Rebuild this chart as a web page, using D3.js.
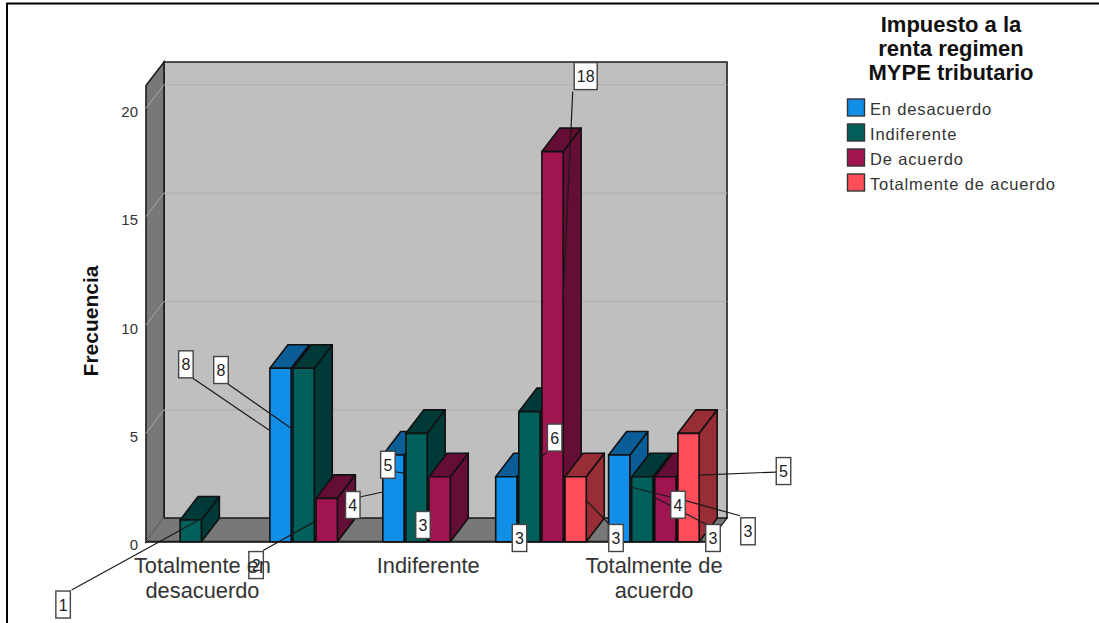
<!DOCTYPE html>
<html>
<head>
<meta charset="utf-8">
<script src="https://cdnjs.cloudflare.com/ajax/libs/d3/7.8.5/d3.min.js"></script>
<style>
  html, body { margin: 0; padding: 0; background: #fff; }
  svg { display: block; font-family: "Liberation Sans", Arial, sans-serif; }
</style>
</head>
<body>
<svg id="chart" width="1099" height="623"></svg>
<script>
// Grouped frequencies per answer to the horizontal-axis question
const categories = ["Totalmente en desacuerdo", "En desacuerdo", "Indiferente", "De acuerdo", "Totalmente de acuerdo"];
const seriesNames = ["En desacuerdo", "Indiferente", "De acuerdo", "Totalmente de acuerdo"];
const enDesacuerdo = [0, 8, 4, 3, 4];
const indiferente = [1, 8, 5, 6, 3];
const deAcuerdo = [0, 2, 3, 18, 3];
const totalmenteDeAcuerdo = [0, 0, 0, 3, 5];
const seriesValues = [enDesacuerdo, indiferente, deAcuerdo, totalmenteDeAcuerdo];
const yTicks = [0, 5, 10, 15, 20];
const legendTitle = ["Impuesto a la", "renta regimen", "MYPE tributario"];
const axisTitle = "Frecuencia";
const shownCategoryLabels = [["Totalmente en", "desacuerdo"], null, ["Indiferente"], null, ["Totalmente de", "acuerdo"]];

// Fill colours per series: front face and shaded side/top face
const frontColors = ["#118fe8", "#01605c", "#a0154f", "#ff4e5a"];
const sideColors = ["#0b5d97", "#003a38", "#640d35", "#982d35"];

// Callouts: series, category, box centre relative to the bar's top-left front corner,
// leader start relative to the box centre, leader end relative to the same corner
const callouts = [
  [1, 0, -117, 84.5, 8.5, -14.5, 17, 1],
  [0, 1, -84, -4, 7, 14, -0.5, 62],
  [1, 1, -72, 1.7, 7, 14, -0.5, 61],
  [2, 1, -60, 66.7, 7, -14.5, -1, 23],
  [0, 2, -30, 50, 7, -8, 0, 37],
  [1, 2, -18, 31.4, 7, 7, 0, 40],
  [2, 2, -6, 48.3, 7, 0, 0, 48],
  [0, 3, 23.8, 61.3, -7, 0, 20, 58],
  [1, 3, 35.9, 25.9, -7, 13.5, 22, 46.4],
  [2, 3, 43.8, -75.5, -13, 15.7, 21, 153],
  [3, 3, 51, 61.3, -7, -14, 21, 23.3],
  [0, 4, 69.4, 49.7, -7.3, -7.7, 20.7, 31.7],
  [1, 4, 81.3, 61.3, -7, -13.7, 21.6, 20],
  [2, 4, 93.2, 54.6, -8, -15.5, 20, 21],
  [3, 4, 105.6, 37.7, -7.5, 1, 20.4, 41.7]
];

const svg = d3.select("#chart");

const depthX = 18, depthY = -23.5;
const floorY = 541.7;
const wallTop = 85.5;
const plotLeft = 146;
const plotRight = 709;

const y = d3.scaleLinear().domain([0, 21.05]).range([floorY, wallTop]);
const x0 = d3.scaleBand().domain(categories).range([147, 711.5]);
const x1 = d3.scaleBand().domain(seriesNames).range([10, 100.55]).paddingInner(0.08);

const line = d3.line();
const poly = pts => line(pts) + "Z";

// Box walls: back, left, floor
const chamber = svg.append("g");
chamber.append("path")
  .attr("d", poly([[plotLeft + depthX, wallTop + depthY], [plotRight + depthX, wallTop + depthY], [plotRight + depthX, floorY + depthY], [plotLeft + depthX, floorY + depthY]]))
  .attr("fill", "#bfbfbf").attr("stroke", "#1c1c1c").attr("stroke-width", 1.6);

const leftWall = poly([[plotLeft, floorY], [plotLeft, wallTop], [plotLeft + depthX, wallTop + depthY], [plotLeft + depthX, floorY + depthY]]);
chamber.append("path").attr("d", leftWall).attr("fill", "#787878").attr("stroke", "#1c1c1c").attr("stroke-width", 1.6);
chamber.append("path")
  .attr("d", poly([[plotLeft, floorY], [plotLeft + depthX, floorY + depthY], [plotRight + depthX, floorY + depthY], [plotRight, floorY]]))
  .attr("fill", "#787878").attr("stroke", "#1c1c1c").attr("stroke-width", 1.2);

// Gridlines on the back wall and their continuation over the left wall
yTicks.forEach(t => {
  if (t > 0) {
    chamber.append("line")
      .attr("x1", plotLeft + depthX).attr("x2", plotRight + depthX)
      .attr("y1", y(t) + depthY).attr("y2", y(t) + depthY)
      .attr("stroke", "#b0b0b0").attr("stroke-width", 1.2);
  }
  chamber.append("line")
    .attr("x1", plotLeft).attr("x2", plotLeft + depthX)
    .attr("y1", y(t)).attr("y2", y(t) + depthY)
    .attr("stroke", "#a8a8a8").attr("stroke-width", 1);
});
chamber.append("line")
  .attr("x1", plotLeft).attr("x2", plotRight)
  .attr("y1", floorY).attr("y2", floorY)
  .attr("stroke", "#1c1c1c").attr("stroke-width", 2);

// Extruded bars, painted left to right so nearer faces overlap correctly
const bars = svg.append("g");
const barGeom = (s, c) => {
  const left = x0(categories[c]) + x1(seriesNames[s]);
  return { left, right: left + x1.bandwidth(), top: y(seriesValues[s][c]) };
};
categories.forEach((cat, c) => {
  seriesNames.forEach((name, s) => {
    const v = seriesValues[s][c];
    if (!v) return;
    const g = barGeom(s, c);
    const group = bars.append("g").attr("stroke", "#111").attr("stroke-width", 1.6).attr("stroke-linejoin", "round");
    group.append("path").attr("fill", sideColors[s])
      .attr("d", poly([[g.right, floorY], [g.right, g.top], [g.right + depthX, g.top + depthY], [g.right + depthX, floorY + depthY]]));
    group.append("path").attr("fill", sideColors[s])
      .attr("d", poly([[g.left, g.top], [g.left + depthX, g.top + depthY], [g.right + depthX, g.top + depthY], [g.right, g.top]]));
    group.append("rect").attr("fill", frontColors[s])
      .attr("x", g.left).attr("y", g.top).attr("width", g.right - g.left).attr("height", floorY - g.top);
  });
});

// Value callouts with leader lines
const notes = svg.append("g");
const boxW = 14.5, boxH = 27;
callouts.forEach(([s, c, dx, dy, sx, sy, ex, ey]) => {
  const g = barGeom(s, c);
  const cx = g.left + dx, cy = g.top + dy;
  notes.append("line")
    .attr("x1", cx + sx).attr("y1", cy + sy)
    .attr("x2", g.left + ex).attr("y2", g.top + ey)
    .attr("stroke", "#1a1a1a").attr("stroke-width", 1.2);
});
callouts.forEach(([s, c, dx, dy]) => {
  const g = barGeom(s, c);
  const cx = g.left + dx, cy = g.top + dy;
  const val = seriesValues[s][c];
  const w = val >= 10 ? 23 : boxW;
  notes.append("rect")
    .attr("x", cx - w / 2).attr("y", cy - boxH / 2).attr("width", w).attr("height", boxH)
    .attr("fill", "#fff").attr("stroke", "#444").attr("stroke-width", 1.4);
  notes.append("text")
    .attr("x", cx).attr("y", cy + 6)
    .attr("text-anchor", "middle").attr("font-size", 16).attr("fill", "#222")
    .text(val);
});

// Frequency axis
const axis = d3.axisLeft(y).tickValues(yTicks).tickSize(0).tickPadding(8);
const axisG = svg.append("g").attr("transform", `translate(${plotLeft},0)`).call(axis);
axisG.select(".domain").remove();
axisG.selectAll("text").attr("font-size", 15).attr("font-family", "inherit").attr("fill", "#333").attr("dy", "0.55em");

svg.append("text")
  .attr("transform", "translate(98,321) rotate(-90)")
  .attr("text-anchor", "middle").attr("font-size", 21).attr("font-weight", "bold").attr("fill", "#111")
  .text(axisTitle);

// Category labels, every other one as in the crowded axis
const catLabels = svg.append("g");
categories.forEach((cat, c) => {
  const lines = shownCategoryLabels[c];
  if (!lines) return;
  lines.forEach((t, i) => {
    catLabels.append("text")
      .attr("x", x0(cat) + x0.bandwidth() / 2 - 1).attr("y", 572.5 + i * 25)
      .attr("text-anchor", "middle").attr("font-size", 21.8).attr("fill", "#333")
      .text(t);
  });
});

// Legend
const legend = svg.append("g");
legendTitle.forEach((t, i) => {
  legend.append("text").attr("x", 951).attr("y", 31.5 + i * 24)
    .attr("text-anchor", "middle").attr("font-size", 22).attr("font-weight", "bold").attr("fill", "#111")
    .text(t);
});
const legendScale = d3.scalePoint().domain(seriesNames).range([108, 183]);
seriesNames.forEach((name, i) => {
  const ly = legendScale(name);
  legend.append("rect").attr("x", 847.5).attr("y", ly - 9).attr("width", 17).attr("height", 17)
    .attr("fill", frontColors[i]).attr("stroke", "#333").attr("stroke-width", 1.4);
  legend.append("text").attr("x", 870).attr("y", ly + 6.5)
    .attr("font-size", 16.5).attr("letter-spacing", "0.85").attr("fill", "#333")
    .text(name);
});

// Outer frame
svg.append("path").attr("d", "M7,623V3.5H1099").attr("fill", "none").attr("stroke", "#000").attr("stroke-width", 2);
</script>
</body>
</html>
